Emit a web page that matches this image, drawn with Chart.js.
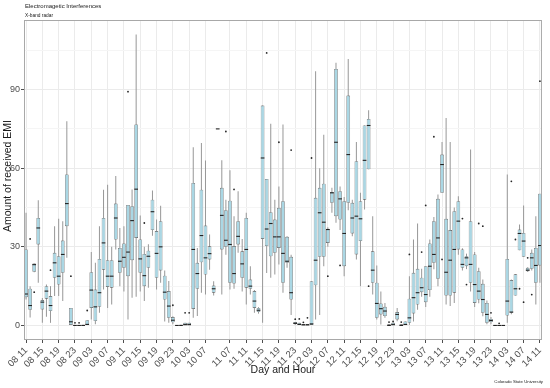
<!DOCTYPE html>
<html>
<head>
<meta charset="utf-8">
<script src="https://cdn.jsdelivr.net/npm/chart.js@4.4.1/dist/chart.umd.min.js"></script>
<style>
  html, body { margin: 0; padding: 0; background: #ffffff; }
  #wrap { width: 550px; height: 388px; }
</style>
</head>
<body>
<div id="wrap"><canvas id="chart" width="550" height="388"></canvas></div>
<script>
// one category per hour ("day hour"), hours with no data are left out
var categories = [
  '08 11','08 12','08 13','08 14','08 15','08 16','08 17','08 18','08 19','08 20','08 21','08 22','08 23',
  '09 00','09 01','09 02','09 03','09 04','09 05','09 06','09 07','09 08','09 09','09 10','09 11',
  '09 12','09 13','09 14','09 15','09 16','09 17','09 18','09 19','09 20','09 21','09 22','09 23',
  '10 00','10 01','10 02','10 03','10 04','10 05','10 06','10 07','10 08','10 09','10 10',
  '11 05','11 06','11 07','11 08','11 09','11 10','11 11','11 12','11 13','11 14','11 15','11 16',
  '11 17','11 18','11 19','11 20','11 21','11 22','11 23',
  '12 00','12 01','12 02','12 03','12 04','12 05','12 06','12 07','12 08','12 09','12 10','12 11',
  '12 12','12 13','12 14','12 15','12 16','12 17','12 18','12 19','12 20','12 21','12 22','12 23',
  '13 00','13 01','13 02','13 03','13 04','13 05','13 06','13 07','13 08','13 09','13 10','13 11',
  '13 12','13 13','13 14','13 15','13 16','13 17','13 18','13 19','13 20','13 21','13 22','13 23',
  '14 00','14 01','14 02','14 03','14 04','14 05','14 06','14 07','14 08','14 09','14 10','14 11'
];

var tickLabels = ['08 11','08 15','08 19','08 23','09 03','09 07','09 11','09 15','09 19','09 23',
  '10 03','10 07','11 07','11 11','11 15','11 19','11 23','12 03','12 07','12 11','12 15','12 19',
  '12 23','13 03','13 07','13 11','13 15','13 19','13 23','14 03','14 07','14 11'];

// box plot stats per hour
var lowW = [9.9,3,20.3,16.3,1,3.3,1,11.2,11.2,9.3,25.8,0,0,
  0,0,0,2.3,0.5,4.8,13.7,6.7,8,29,15,13,2.3,10.6,11,13,9.3,14.4,34.2,13.7,16.3,1.5,1,0.5,
  0,0,0,0,2.9,3.6,12.5,11.8,21.3,11.4,75,
  11.8,27,13.7,14,27.7,13,8,11.8,4.8,4.5,1,20,18.2,19.4,23.3,12.5,22,4,0,
  0,0,0,0,2.3,4,22.6,30,43,39.2,36.4,18.8,44,34,25.2,15,44.2,59.6,11.8,2.3,0.4,2.9,0,0,
  1.6,0,0,0,1.5,6,11,7,11,21.4,15,50.6,8,7.4,8.6,27,21,21.5,13,7,8.5,3.5,0.5,0.5,
  0,0,0,1,4.3,11.4,28.7,26.2,20.4,21,8,16.3];
var q1 = [10.8,6,20.5,30.9,6.1,10.2,5.5,18.2,15.6,20.1,37.9,0,0,
  0,0,0,6.7,1.7,7.1,21.3,14.7,14.4,32.8,20.1,22,18.8,24.9,33.4,20.1,15,22,36.4,18.2,21,9.9,2.9,1.2,
  0,0,0,0,6.3,14,24.1,19.4,25.2,12.5,75,
  29,30,16.3,16,30.9,18.2,14.4,14,6.7,5.1,33,30.3,26.4,27.7,29.6,16.3,23.9,9.9,0.6,
  0,0,0,0,15.3,26.2,26.2,31.5,46.8,41.7,40.4,22.6,46.8,35.1,27.1,32.2,48,59.6,16.3,2.9,4.2,3.6,0,0,
  2.3,0,0,1,4.6,8,12.7,8.9,13.5,23.9,17.8,50.6,11.4,11.4,12.5,29,22,22.6,16.3,8.6,9.9,4.8,1,1.3,
  0,0,0,3.8,4.8,11.4,28.7,26.2,20.7,21.6,16.3,22.9];
var med = [12,7.6,23.2,37.2,8.9,13.1,7.6,23.9,18.8,27.1,46.5,1.4,0,
  0,0,0.4,13.5,7.1,12.5,31.5,18.8,18.8,41,24.5,26,28,40,52,25.4,19,26.4,43.4,27.5,30,12.7,7.4,2,
  0,0,0.3,0.3,29,19.8,34.3,25.8,27.4,14,75,
  42,32.5,30.9,19.8,34,23.5,29,15,9.3,5.8,63.9,36.8,38.9,33.8,33.8,27.5,24.5,12.5,0.8,
  0.4,0.2,0.2,0.6,24.9,43,39.4,36.6,50.6,69.9,48.3,35.1,65.2,41,41.7,40.7,63,76.3,21.1,8.4,6.4,5.5,0,0.3,
  4.2,0,0.4,2.9,10.6,12.5,14.4,11.8,22.6,27.1,33.4,61.4,20.3,24.9,29,39.8,23.3,25.8,23.3,15.6,13.1,9.9,4.2,1.9,
  0,0,0,9.3,5.1,14,35.1,32.2,21.1,25.8,22.9,30.5];
var q3 = [29,14,23.6,41,9.7,15,11.2,27.7,26.4,32.4,57.6,6.7,0,
  0,0.3,2,20.3,13.7,25.4,41,24.9,24.9,46.5,29.6,31.3,46,45.5,76.7,32.8,27.3,28.5,48,36,39.8,19,13.1,3.2,
  0,0.3,1,1,54.4,23.9,51.8,38.1,30.2,15.2,75,
  52.5,44,47.6,30.3,39.8,28.3,41,17.5,13.1,6.7,83.9,55.9,43.2,40.4,44.9,47.4,33.8,26.2,1.3,
  1,0.6,0.6,16.9,48.7,52.5,54.1,36.9,50.9,97.9,51.2,47.4,87.7,46.8,62.7,47.4,76.3,78.8,28.3,16.3,8.4,7.1,0.5,1,
  5.1,0.5,1.5,10.2,20.1,21.6,18.2,22.6,31.3,39.8,48.3,65.2,40.7,36.4,43.6,47.4,29,26.4,39.8,27.1,20.7,15.9,8.6,2.5,
  0,0,0,25.4,17.3,19.5,36.6,35.3,22,27.7,29.6,50.3];
var highW = [43,15,23.6,47.8,10.5,15.6,15,37.9,40.7,39.8,77.9,6.7,0,
  0,0.3,2,28,23.9,37.9,51.8,53.7,30,57,37.2,37.9,46,51.9,111,42,30,31,51.5,40.4,45.7,21,17,3.5,
  0,0.3,1,1,68,29.6,69.6,62.9,34.7,16.9,75,
  63,48,59.2,41.7,51.2,33,43,22.6,13.5,7,83.9,55.9,77,48,53,76.7,34,27,1.3,
  1,0.6,0.6,16.9,97,60,72.8,37.5,52.5,100.2,53,49,101.7,48,70,50.6,76.3,82.1,41.7,22.9,13,8.6,0.5,1,
  6.7,0.5,1.5,18.8,32.8,38.9,21.6,22.6,32.8,41.4,50,70,79.2,70,45,49.3,29.5,27.4,67.1,28,22,17.5,9.5,3.2,
  0,0,0,57.6,17.5,19.5,38.5,45.8,22.2,29,41.7,50.3];

// single points beyond the whiskers
var outlierCat = ['08 12','08 13','08 17','08 22','08 23','09 00','09 02','09 12','09 16','09 23',
  '10 02','10 03','11 06','11 08','11 16','11 19','11 22','11 23','12 00','12 01','12 02','12 03',
  '12 07','12 10','12 17','12 22','12 23','13 01','13 03','13 06','13 07','13 09','13 11','13 16',
  '13 17','13 20','13 21','13 23','14 01','14 04','14 05','14 06','14 07','14 08','14 09','14 11'];
var outlierVal = [33,12.7,21.1,18.8,1,1,5.7,89.2,39.1,7.7,
  4.8,4.8,74,51.9,104,69.9,66.9,2.4,2.5,1.2,2.9,63.9,
  18.8,22.9,15,1.3,1.5,1.3,27.1,28,45.8,72,25.2,40.8,
  15.6,38.9,37.9,4.8,0.8,55,32.8,14,8.9,25.8,11.8,93.2];

var boxData = [];
var whiskerData = [];
for (var i = 0; i < categories.length; i++) {
  boxData.push([q1[i], q3[i]]);
  whiskerData.push([lowW[i], highW[i]]);
}
var outlierData = [];
for (var k = 0; k < outlierCat.length; k++) {
  outlierData.push({x: outlierCat[k], y: outlierVal[k]});
}

var FONT = "'Liberation Sans', Arial, sans-serif";

// titles, caption and panel frame (ggplot style)
var decor = {
  id: 'decor',
  afterDraw: function(chart) {
    var ctx = chart.ctx;
    var a = chart.chartArea;
    ctx.save();
    ctx.strokeStyle = '#a8a8a8';
    ctx.lineWidth = 1;
    ctx.strokeRect(a.left + 0.5, a.top + 0.5, a.right - a.left - 1, a.bottom - a.top - 1);

    ctx.fillStyle = '#1a1a1a';
    ctx.textBaseline = 'middle';
    ctx.textAlign = 'left';
    ctx.font = '6px ' + FONT;
    ctx.fillText('Electromagetic Interferences', 25, 6);
    ctx.font = '4.8px ' + FONT;
    ctx.fillText('X-band radar', 25, 15.5);

    ctx.textAlign = 'center';
    ctx.font = '10.5px ' + FONT;
    ctx.fillText('Day and Hour', (a.left + a.right) / 2, 370);

    ctx.save();
    ctx.translate(8, 176);
    ctx.rotate(-Math.PI / 2);
    ctx.fillText('Amount of received EMI', 0, 0);
    ctx.restore();

    ctx.textAlign = 'right';
    ctx.font = '4.3px ' + FONT;
    ctx.fillText('Colorado State University', 543, 382);
    ctx.restore();
  }
};

var ctx = document.getElementById('chart').getContext('2d');
var chart = new Chart(ctx, {
  type: 'bar',
  data: {
    labels: categories,
    datasets: [
      {
        label: 'whisker',
        data: whiskerData,
        backgroundColor: '#999999',
        borderWidth: 0,
        categoryPercentage: 1,
        barPercentage: 0.25,
        grouped: false,
        order: 4
      },
      {
        label: 'box',
        data: boxData,
        backgroundColor: '#aad7e4',
        borderColor: '#555555',
        borderWidth: 0.6,
        borderSkipped: false,
        categoryPercentage: 1,
        barPercentage: 0.9,
        grouped: false,
        order: 3
      },
      {
        type: 'line',
        label: 'median',
        data: med,
        showLine: false,
        pointStyle: 'line',
        pointRadius: 1.85,
        pointBorderWidth: 1.1,
        pointBorderColor: '#222222',
        pointBackgroundColor: '#222222',
        order: 2
      },
      {
        type: 'line',
        label: 'outlier',
        data: outlierData,
        showLine: false,
        pointRadius: 0.9,
        pointBorderWidth: 0,
        pointBackgroundColor: '#262626',
        order: 1
      }
    ]
  },
  options: {
    responsive: false,
    animation: false,
    events: [],
    layout: { padding: { top: 20, right: 7, left: 0, bottom: 0 } },
    plugins: {
      legend: { display: false },
      tooltip: { enabled: false },
      title: { display: false }
    },
    scales: {
      x: {
        type: 'category',
        offset: true,
        border: { display: false },
        grid: {
          offset: false,
          color: '#ebebeb',
          lineWidth: 1,
          drawTicks: true,
          tickLength: 3,
          tickColor: '#4d4d4d'
        },
        ticks: {
          autoSkip: false,
          maxRotation: 45,
          minRotation: 45,
          padding: 2,
          color: '#4d4d4d',
          font: { family: FONT, size: 9.5 },
          callback: function(value, index) {
            var lab = categories[index];
            return tickLabels.indexOf(lab) >= 0 ? lab : null;
          }
        },
        afterFit: function(scale) { scale.height = 48; }
      },
      y: {
        min: -5.55,
        max: 116.55,
        border: { display: false },
        grid: {
          color: function(c) { return c.tick && c.tick.value % 30 === 0 ? '#ebebeb' : '#f5f5f5'; },
          lineWidth: 1,
          drawTicks: true,
          tickLength: 3,
          tickColor: function(c) { return c.tick && c.tick.value % 30 === 0 ? '#4d4d4d' : 'rgba(0,0,0,0)'; }
        },
        ticks: {
          stepSize: 15,
          includeBounds: false,
          padding: 1,
          color: '#4d4d4d',
          font: { family: FONT, size: 9 },
          callback: function(value) { return value % 30 === 0 ? String(value) : ''; }
        },
        afterFit: function(scale) { scale.width = 24; }
      }
    }
  },
  plugins: [decor]
});
</script>
</body>
</html>
